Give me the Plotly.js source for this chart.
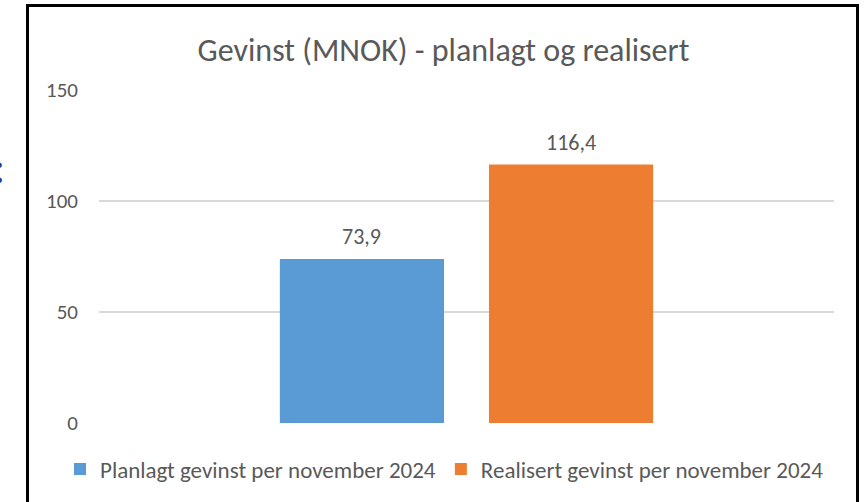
<!DOCTYPE html>
<html>
<head>
<meta charset="utf-8">
<script src="https://cdn.plot.ly/plotly-3.0.1.min.js"></script>
<style>html,body{margin:0;padding:0;background:#fff;}#chart{width:867px;height:502px;}</style>
</head>
<body>
<div id="chart"></div>
<script>
const categories = [""];
const seriesNames = ["Planlagt gevinst per november 2024", "Realisert gevinst per november 2024"];
const planlagt = [73.9];
const realisert = [116.4];
const yTicks = [0, 50, 100, 150];

const W = 867, H = 502;
const M = {l: 99, r: 33, t: 90, b: 79, autoexpand: false};
const pw = W - M.l - M.r, ph = H - M.t - M.b;
const px2x = p => (p - M.l) / pw;
const py2y = p => (H - M.b - p) / ph;

const colors = ["#5B9BD5", "#ED7D31"];
const FONT = "Carlito, Lato, 'Open Sans', sans-serif";
const GREY = "#595959";
const bargap = 0.431;

const values = [planlagt, realisert];
const traces = values.map((v, i) => ({
  type: "bar",
  name: seriesNames[i],
  x: categories,
  y: v,
  marker: {color: colors[i], line: {width: 0}},
  hoverinfo: "skip"
}));

const slot = (1 - bargap) / values.length;
const annotations = [];
values.forEach((v, i) => {
  v.forEach((val, j) => {
    annotations.push({
      x: j - (1 - bargap) / 2 + slot * (i + 0.5),
      y: val,
      xref: "x", yref: "y",
      text: val.toFixed(1).replace(".", ","),
      showarrow: false,
      yanchor: "middle",
      yshift: 22,
      font: {family: FONT, size: 22, color: GREY}
    });
  });
});
annotations.push({
  x: px2x(-1), y: py2y(167), xref: "paper", yref: "paper",
  text: ":", showarrow: false, xanchor: "center", yanchor: "middle",
  font: {family: FONT, size: 46, color: "#1F3F9A"}
});

const layout = {
  width: W, height: H,
  margin: M,
  paper_bgcolor: "#fff",
  plot_bgcolor: "#fff",
  font: {family: FONT, color: GREY},
  title: {
    text: "Gevinst (MNOK) - planlagt og realisert",
    font: {family: FONT, size: 32, color: GREY},
    x: 443.5 / W, xanchor: "center", xref: "container",
    y: 1 - 50 / H, yanchor: "middle", yref: "container"
  },
  barmode: "group",
  bargap: bargap,
  bargroupgap: 0.215,
  showlegend: true,
  legend: {
    orientation: "h",
    xref: "paper", yref: "paper",
    x: px2x(60), xanchor: "left",
    y: py2y(469), yanchor: "middle",
    font: {family: FONT, size: 23, color: GREY},
    itemwidth: 30,
    bgcolor: "rgba(0,0,0,0)"
  },
  xaxis: {
    type: "category",
    showticklabels: false,
    showgrid: false,
    zeroline: false,
    showline: false,
    ticks: "",
    fixedrange: true
  },
  yaxis: {
    range: [0, 150],
    tickvals: yTicks,
    ticktext: yTicks.map(String),
    showgrid: true,
    gridcolor: "#D9D9D9",
    gridwidth: 1.3,
    zeroline: false,
    showline: false,
    ticks: "",
    automargin: false,
    ticklabelstandoff: 20,
    tickfont: {family: FONT, size: 21, color: GREY},
    fixedrange: true
  },
  shapes: [{
    type: "path", xref: "paper", yref: "paper",
    path: `M ${px2x(27.5)} ${py2y(520)} L ${px2x(27.5)} ${py2y(5.5)} L ${px2x(857.5)} ${py2y(5.5)} L ${px2x(857.5)} ${py2y(520)}`,
    line: {color: "#000", width: 3}
  }],
  annotations: annotations
};

Plotly.newPlot("chart", traces, layout, {displayModeBar: false, staticPlot: true});
</script>
</body>
</html>
